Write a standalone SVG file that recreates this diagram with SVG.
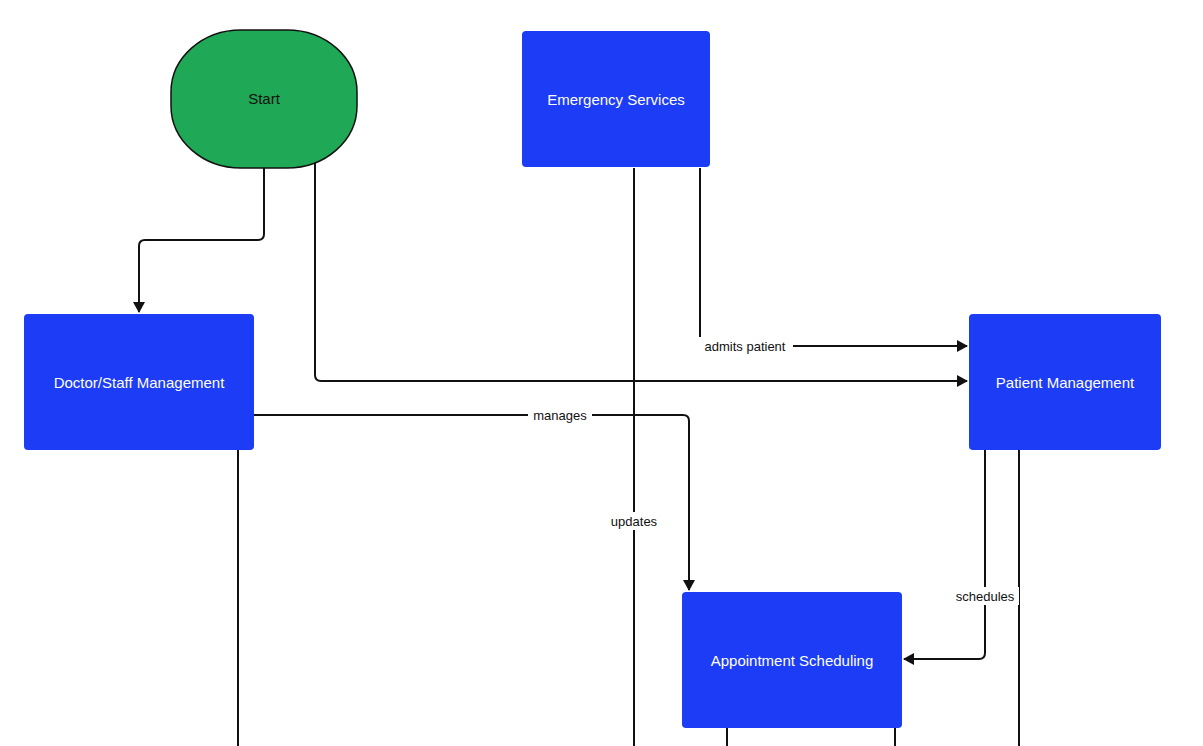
<svg xmlns="http://www.w3.org/2000/svg" width="1203" height="746" viewBox="0 0 1203 746">
<style>
.n{fill:#1c3cf5}
.t{font-family:"Liberation Sans",Arial,sans-serif;font-size:15px;fill:#fff;text-anchor:middle;dominant-baseline:central}
.c{fill:none;stroke:#111;stroke-width:2}
.l{font-family:"Liberation Sans",Arial,sans-serif;font-size:13px;fill:#111;text-anchor:middle;dominant-baseline:central}
.lb{fill:#fff}
</style>
<defs><marker id="a" markerWidth="12" markerHeight="12" refX="10" refY="6" orient="auto" markerUnits="userSpaceOnUse"><path d="M0,0 L11,6 L0,12 Z" fill="#111"/></marker></defs>
<rect width="1203" height="746" fill="#fff"/>
<g id="connectors">
<path class="c" d="M264,168 V234 Q264,240 258,240 H145 Q139,240 139,246 V312" marker-end="url(#a)"/>
<path class="c" d="M315,162 V375 Q315,381 321,381 H967" marker-end="url(#a)"/>
<path class="c" d="M700,168 V346 H967" marker-end="url(#a)"/>
<path class="c" d="M634,168 V746"/>
<path class="c" d="M254,415 H683 Q689,415 689,421 V590" marker-end="url(#a)"/>
<path class="c" d="M238,450 V746"/>
<path class="c" d="M985,450 V653 Q985,659 979,659 H904" marker-end="url(#a)"/>
<path class="c" d="M1019,450 V746"/>
<path class="c" d="M727,728 V746"/>
<path class="c" d="M895,728 V746"/>
<rect class="lb" x="697" y="337" width="96" height="18"/><text class="l" x="745" y="346">admits patient</text>
<rect class="lb" x="528" y="406" width="64" height="18"/><text class="l" x="560" y="415">manages</text>
<rect class="lb" x="606" y="512" width="56" height="18"/><text class="l" x="634" y="521">updates</text>
<rect class="lb" x="951" y="587" width="68" height="18"/><text class="l" x="985" y="596">schedules</text>
</g>
<g id="start"><rect x="171" y="30" width="186" height="138" rx="70" ry="62" fill="#1fa855" stroke="#111" stroke-width="1.5"/><text class="t" x="264" y="98" style="fill:#111">Start</text></g>
<g id="emergency"><rect class="n" x="522" y="31" width="188" height="136" rx="4"/><text class="t" x="616" y="99">Emergency Services</text></g>
<g id="doctor"><rect class="n" x="24" y="314" width="230" height="136" rx="4"/><text class="t" x="139" y="382">Doctor/Staff Management</text></g>
<g id="patient"><rect class="n" x="969" y="314" width="192" height="136" rx="4"/><text class="t" x="1065" y="382">Patient Management</text></g>
<g id="appointment"><rect class="n" x="682" y="592" width="220" height="136" rx="4"/><text class="t" x="792" y="660">Appointment Scheduling</text></g>
</svg>
